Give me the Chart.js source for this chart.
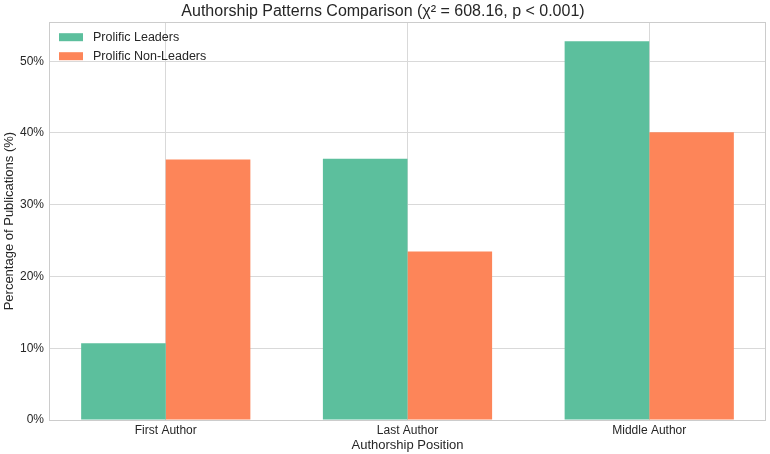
<!DOCTYPE html>
<html lang="en">
<head>
    <meta charset="UTF-8">
    <title>Authorship Patterns Comparison</title>
    <script src="https://cdn.jsdelivr.net/npm/chart.js"></script>
    <style>
        body {
            margin: 0;
            padding: 0;
            background: #ffffff;
        }
        #wrap {
            width: 770px;
            height: 454px;
        }
    </style>
</head>
<body>
    <div id="wrap"><canvas id="authorChart"></canvas></div>

    <script>
        const categories = ['First Author', 'Last Author', 'Middle Author'];
        const seriesNames = ['Prolific Leaders', 'Prolific Non-Leaders'];
        const leaders = [10.7, 36.4, 52.8];
        const nonLeaders = [36.3, 23.5, 40.1];
        const yTicks = [0, 10, 20, 30, 40, 50];

        const textColor = '#262626';
        const gridColor = '#d9d9d9';
        const fontFamily = "'Liberation Sans', Arial, sans-serif";

        // spines all round + legend in the top-left corner of the plot
        const boxAndLegend = {
            id: 'boxAndLegend',
            afterDraw(chart) {
                const ctx = chart.ctx;
                const a = chart.chartArea;
                ctx.save();
                ctx.strokeStyle = '#cccccc';
                ctx.lineWidth = 1;
                ctx.strokeRect(Math.round(a.left) + 0.5, Math.round(a.top) + 0.5,
                    Math.round(a.right - a.left) - 1, Math.round(a.bottom - a.top));

                ctx.font = '12.5px ' + fontFamily;
                ctx.textBaseline = 'middle';
                ctx.textAlign = 'left';
                chart.data.datasets.forEach((ds, i) => {
                    const y = a.top + 11 + i * 19;
                    ctx.fillStyle = ds.backgroundColor;
                    ctx.fillRect(a.left + 10, y, 24, 8);
                    ctx.fillStyle = textColor;
                    ctx.fillText(ds.label, a.left + 44, y + 4);
                });
                ctx.restore();
            }
        };

        new Chart(document.getElementById('authorChart'), {
            type: 'bar',
            data: {
                datasets: [
                    {
                        label: seriesNames[0],
                        data: leaders.map((v, i) => ({ x: i, y: v })),
                        backgroundColor: '#5cbf9d'
                    },
                    {
                        label: seriesNames[1],
                        data: nonLeaders.map((v, i) => ({ x: i, y: v })),
                        backgroundColor: '#fd8559'
                    }
                ]
            },
            options: {
                responsive: true,
                maintainAspectRatio: false,
                animation: false,
                categoryPercentage: 0.7,
                barPercentage: 1.0,
                layout: { padding: { left: 0, right: 4, top: 0, bottom: 0 } },
                plugins: {
                    legend: { display: false },
                    tooltip: { enabled: false },
                    title: {
                        display: true,
                        text: 'Authorship Patterns Comparison (χ² = 608.16, p < 0.001)',
                        color: textColor,
                        font: { family: fontFamily, size: 16, weight: 'normal' },
                        padding: { top: 2, bottom: 1 }
                    }
                },
                scales: {
                    x: {
                        type: 'linear',
                        min: -0.483,
                        max: 2.483,
                        offset: false,
                        afterBuildTicks(scale) {
                            scale.ticks = categories.map((c, i) => ({ value: i }));
                        },
                        afterFit(scale) { scale.height = 34; },
                        grid: { color: gridColor, drawTicks: false, offset: false },
                        border: { display: false },
                        ticks: {
                            color: textColor,
                            font: { family: fontFamily, size: 12 },
                            padding: 3,
                            maxRotation: 0,
                            callback: v => categories[v]
                        },
                        title: {
                            display: true,
                            text: 'Authorship Position',
                            color: textColor,
                            font: { family: fontFamily, size: 13 },
                            padding: { top: 0, bottom: 1 }
                        }
                    },
                    y: {
                        min: 0,
                        max: 55.44,
                        afterBuildTicks(scale) {
                            scale.ticks = yTicks.map(v => ({ value: v }));
                        },
                        afterFit(scale) { scale.width = 49; },
                        grid: { color: gridColor, drawTicks: false },
                        border: { display: false },
                        ticks: {
                            color: textColor,
                            font: { family: fontFamily, size: 12 },
                            padding: 5,
                            callback: v => v + '%'
                        },
                        title: {
                            display: true,
                            text: 'Percentage of Publications (%)',
                            color: textColor,
                            font: { family: fontFamily, size: 13 },
                            padding: { top: 2, bottom: 0 }
                        }
                    }
                }
            },
            plugins: [boxAndLegend]
        });
    </script>
</body>
</html>
